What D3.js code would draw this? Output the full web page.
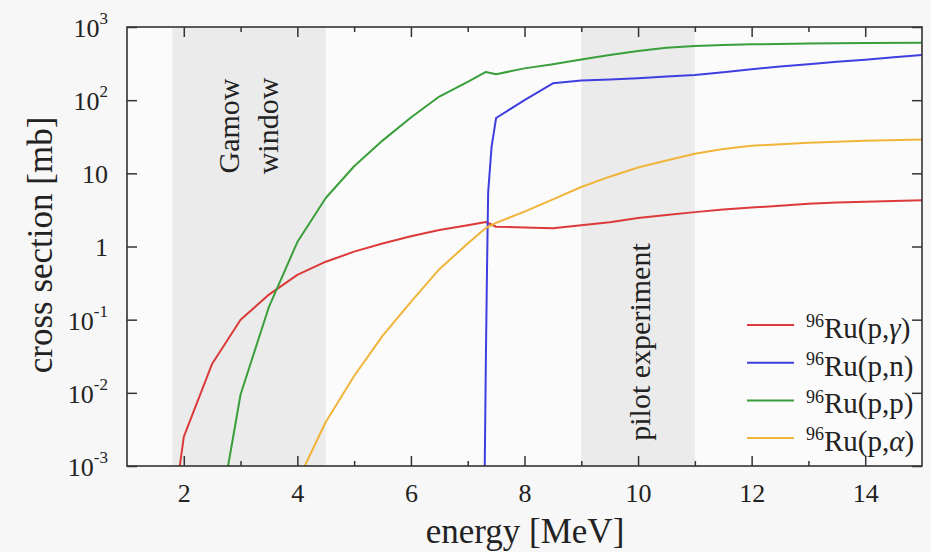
<!DOCTYPE html>
<html>
<head>
<meta charset="utf-8">
<script src="https://cdn.jsdelivr.net/npm/d3@7"></script>
<style>
  body { margin: 0; background: #f7f7f7; }
  svg { display: block; font-family: "Liberation Serif", "DejaVu Serif", serif; }
</style>
</head>
<body>
<svg class="chart"></svg>
<script>
var width = 931,
	height = 552,
	x0 = 127, x1 = 922, y0 = 27, y1 = 466;

// cross sections in mb, [energy MeV, value]
var pGamma = [[1.93,0.001],[2.0,0.0025],[2.5,0.025],[3.0,0.1],[3.5,0.22],[4.0,0.41],[4.5,0.62],[5.0,0.85],[5.5,1.1],[6.0,1.38],[6.5,1.68],[7.0,1.95],[7.32,2.16],[7.5,1.86],[8.0,1.82],[8.5,1.77],[9.0,1.95],[9.5,2.15],[10.0,2.45],[10.5,2.7],[11.0,2.95],[11.5,3.2],[12.0,3.4],[12.5,3.6],[13.0,3.85],[13.5,4.0],[14.0,4.1],[14.5,4.2],[15.0,4.3]];
var pN = [[7.30,0.001],[7.32,0.03],[7.34,0.5],[7.36,5.5],[7.42,23],[7.5,57],[8.0,100],[8.5,170],[9.0,185],[9.5,192],[10.0,200],[10.5,210],[11.0,221],[11.5,240],[12.0,265],[12.5,288],[13.0,310],[13.5,335],[14.0,358],[14.5,385],[15.0,414]];
var pP = [[2.78,0.001],[3.0,0.0095],[3.5,0.15],[4.0,1.15],[4.5,4.6],[5.0,12.5],[5.5,28],[6.0,58],[6.5,112],[7.0,178],[7.32,243],[7.5,226],[8.0,272],[8.5,310],[9.0,360],[9.5,414],[10.0,470],[10.5,520],[11.0,550],[11.5,568],[12.0,580],[13.0,595],[14.0,603],[15.0,610]];
var pAlpha = [[4.13,0.001],[4.5,0.004],[5.0,0.017],[5.5,0.06],[6.0,0.175],[6.5,0.49],[7.0,1.1],[7.32,1.79],[7.5,2.1],[8.0,3.0],[8.5,4.4],[9.0,6.5],[9.5,9.0],[10.0,12.0],[10.5,15.0],[11.0,18.5],[11.5,21.5],[12.0,23.8],[13.0,26.2],[14.0,27.8],[15.0,29]];

var seriesNames = [["(p,", "\u03b3", ")"], ["(p,", "n", ")"], ["(p,", "p", ")"], ["(p,", "\u03b1", ")"]];
var seriesColors = ["#dc3a3a", "#3f3fe0", "#3a9e3a", "#f0b43a"];
var seriesData = [pGamma, pN, pP, pAlpha];

var bands = [[1.8, 4.5], [9.0, 11.0]];
var xMajor = [2, 4, 6, 8, 10, 12, 14];
var xMinor = [3, 5, 7, 9, 11, 13];
var yTicks = [1e-3, 1e-2, 1e-1, 1, 10, 100, 1000];
var yTickLabels = ["10^-3", "10^-2", "10^-1", "1", "10", "10^2", "10^3"];

var x = d3.scaleLinear().domain([1, 15]).range([x0, x1]);
var y = d3.scaleLog().domain([1e-3, 1e3]).range([y1, y0]);

var chart = d3.select(".chart")
	.attr("width", width)
	.attr("height", height);

chart.append("rect")
	.attr("x", x0).attr("y", y0)
	.attr("width", x1 - x0).attr("height", y1 - y0)
	.attr("fill", "#fbfbfb");

chart.selectAll(".band")
	.data(bands)
  .enter().append("rect")
	.attr("class", "band")
	.attr("x", function(d) { return x(d[0]); })
	.attr("y", y0)
	.attr("width", function(d) { return x(d[1]) - x(d[0]); })
	.attr("height", y1 - y0)
	.attr("fill", "#ebebeb");

chart.append("text")
	.attr("transform", "translate(" + 239 + "," + 126 + ") rotate(-90)")
	.attr("text-anchor", "middle")
	.attr("font-size", 30)
	.attr("fill", "#222")
	.selectAll("tspan")
	.data(["Gamow", "window"])
  .enter().append("tspan")
	.attr("x", 0)
	.attr("dy", function(d, i) { return i ? "1.3em" : 0; })
	.text(function(d) { return d; });

chart.append("text")
	.attr("transform", "translate(" + 650 + "," + 342 + ") rotate(-90)")
	.attr("text-anchor", "middle")
	.attr("font-size", 30)
	.attr("fill", "#222")
	.text("pilot experiment");

chart.append("clipPath").attr("id", "plot")
  .append("rect")
	.attr("x", x0).attr("y", y0)
	.attr("width", x1 - x0).attr("height", y1 - y0);

var line = d3.line()
	.x(function(d) { return x(d[0]); })
	.y(function(d) { return y(d[1]); });

chart.append("g")
	.attr("clip-path", "url(#plot)")
	.selectAll("path")
	.data(seriesData)
  .enter().append("path")
	.attr("d", line)
	.attr("fill", "none")
	.attr("stroke", function(d, i) { return seriesColors[i]; })
	.attr("stroke-width", 2)
	.attr("stroke-linejoin", "round");

// axes, ticks pointing inward
function styleAxis(g) {
	g.select(".domain").remove();
	g.selectAll("line").attr("stroke", "#333").attr("stroke-width", 1.5);
	g.selectAll("text").attr("font-size", 26).attr("fill", "#222").attr("font-family", "Liberation Serif");
}

chart.append("g")
	.attr("transform", "translate(0," + y1 + ")")
	.call(d3.axisBottom(x).tickValues(xMajor).tickSize(-10).tickPadding(18).tickFormat(d3.format("d")))
	.call(styleAxis);
chart.append("g")
	.attr("transform", "translate(0," + y1 + ")")
	.call(d3.axisBottom(x).tickValues(xMinor).tickSize(-5).tickFormat(""))
	.call(styleAxis);
chart.append("g")
	.attr("transform", "translate(0," + y0 + ")")
	.call(d3.axisTop(x).tickValues(xMajor).tickSize(-10).tickFormat(""))
	.call(styleAxis);
chart.append("g")
	.attr("transform", "translate(0," + y0 + ")")
	.call(d3.axisTop(x).tickValues(xMinor).tickSize(-5).tickFormat(""))
	.call(styleAxis);

var yAxis = chart.append("g")
	.attr("transform", "translate(" + x0 + ",0)")
	.call(d3.axisLeft(y).tickValues(yTicks).tickSize(-10).tickPadding(19).tickFormat(function() { return ""; }))
	.call(styleAxis);
yAxis.selectAll(".tick text")
	.attr("dy", "0.36em")
	.each(function(d, i) {
		var parts = yTickLabels[i].split("^");
		var t = d3.select(this);
		t.append("tspan").text(parts[0]);
		if (parts[1]) {
			t.append("tspan").attr("font-size", 17).attr("dy", "-0.75em").text(parts[1]);
		}
	});
chart.append("g")
	.attr("transform", "translate(" + x1 + ",0)")
	.call(d3.axisRight(y).tickValues(yTicks).tickSize(-10).tickFormat(""))
	.call(styleAxis);

chart.append("rect")
	.attr("x", x0).attr("y", y0)
	.attr("width", x1 - x0).attr("height", y1 - y0)
	.attr("fill", "none")
	.attr("stroke", "#333")
	.attr("stroke-width", 1.6);

// legend
var legend = chart.selectAll(".legend")
	.data(seriesNames)
  .enter().append("g")
	.attr("class", "legend")
	.attr("transform", function(d, i) { return "translate(747," + (325 + i * 37.7) + ")"; });

legend.append("line")
	.attr("x1", 0).attr("x2", 47)
	.attr("stroke", function(d, i) { return seriesColors[i]; })
	.attr("stroke-width", 2);

var lt = legend.append("text")
	.attr("x", 59)
	.attr("y", 13)
	.attr("font-size", 29)
	.attr("fill", "#222");
lt.append("tspan").attr("font-size", 18).attr("dy", "-0.6em").text("96");
lt.append("tspan").attr("dy", "0.37em").text("Ru");
lt.append("tspan").text(function(d) { return d[0]; });
lt.append("tspan").attr("font-style", function(d) { return d[1] > "z" ? "italic" : null; }).text(function(d) { return d[1]; });
lt.append("tspan").text(function(d) { return d[2]; });

chart.append("text")
	.attr("x", 525)
	.attr("y", 543)
	.attr("text-anchor", "middle")
	.attr("font-size", 35)
	.attr("fill", "#222")
	.text("energy [MeV]");

chart.append("text")
	.attr("transform", "translate(52,245) rotate(-90)")
	.attr("text-anchor", "middle")
	.attr("font-size", 35)
	.attr("fill", "#222")
	.text("cross section [mb]");
</script>
</body>
</html>
